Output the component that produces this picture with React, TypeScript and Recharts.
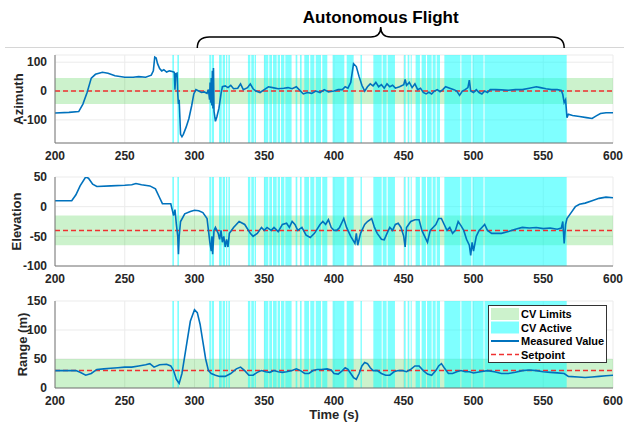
import {
  CartesianGrid,
  ComposedChart,
  Label,
  Legend,
  Line,
  ReferenceArea,
  ReferenceLine,
  XAxis,
  YAxis,
} from "recharts";

const timeTicks = [200, 250, 300, 350, 400, 450, 500, 550, 600];
const azimuthTicks = [-100, 0, 100];
const elevationTicks = [-100, -50, 0, 50];
const rangeTicks = [0, 50, 100, 150];

// CV active windows, seconds
const cvActive: [number, number][] = [
  [284.1, 285.3], [287.7, 288.9],
  [310.6, 311.8], [312.3, 314.0],
  [317.6, 319.5], [320.2, 321.9], [322.6, 323.5], [324.3, 325.4],
  [338.3, 340.0], [340.7, 342.6], [343.1, 344.1],
  [349.8, 352.9], [353.6, 355.6], [356.3, 358.9], [359.6, 361.3], [362.0, 364.4], [365.1, 369.6],
  [372.5, 373.7], [375.6, 376.8],
  [378.7, 382.1], [383.0, 385.9], [386.9, 390.7], [391.6, 395.2],
  [399.0, 407.4], [409.1, 414.1], [419.0, 420.0],
  [428.2, 434.2], [434.9, 437.7], [438.5, 443.7],
  [450.2, 451.4], [452.8, 454.0], [455.0, 455.7], [458.5, 461.6],
  [462.8, 465.9], [466.7, 470.0], [470.7, 472.9], [473.6, 476.0],
  [479.1, 490.6], [491.3, 498.5], [499.2, 507.2], [507.9, 566.8],
];

const azimuth: [number, number][] = [
  [200, -76], [210, -74], [217, -71], [220, -45], [223, -5], [226, 45], [229, 58], [234, 65], [238, 62],
  [243, 53], [250, 48], [256, 48], [260, 50], [265, 48], [269, 55], [270.5, 70], [271.5, 118], [272.5, 115],
  [273.5, 95], [275, 78], [276.5, 70], [278, 74], [280, 66], [282, 70], [284, 68], [285.5, 65], [286, 5],
  [286.5, 60], [287.5, 62], [288, -10], [288.5, -45], [289, -30], [290, -150], [291, -158], [292, -150],
  [294, -125], [296, -95], [298, -50], [299.5, -10], [301, 5], [303, 0], [305, -5], [307, -3], [309, -8],
  [310, 5], [310.8, -30], [311.2, 30], [311.6, -40], [312, 45], [312.4, -50], [312.8, 70], [313.2, -60],
  [313.6, 80], [314, -70], [315, -105], [316, -90], [317.5, -60], [319, -10], [320, 15], [322, 18],
  [324, 12], [326, 20], [328, 8], [331, 10], [333, 25], [335, 5], [338, 12], [340, 25], [342, 8],
  [344, 0], [347, -5], [350, 5], [353, 15], [356, 12], [360, 8], [364, 10], [367, 12], [370, 8],
  [373, 15], [375, 5], [378, -10], [381, -5], [384, -8], [387, 0], [390, -5], [393, 5], [396, -3],
  [400, 0], [403, 5], [406, 5], [408, 15], [410, 10], [412, 30], [414, 95], [416, 85], [418, 50],
  [420, 20], [422, 0], [424, 15], [426, 25], [428, 18], [430, 30], [432, 15], [434, 22], [436, 10],
  [438, 25], [440, 15], [442, 20], [444, 10], [447, 15], [450, 22], [451, 40], [452, 20], [454, 30],
  [456, 12], [458, 25], [460, 5], [462, 10], [464, -5], [466, -10], [468, -4], [470, -10], [472, 0],
  [474, 5], [476, -2], [478, 5], [480, 15], [483, 10], [486, 5], [488, 0], [490, -15], [492, 0],
  [494, 5], [496, 12], [497, 38], [498, 0], [500, -5], [502, 5], [504, -5], [506, -10], [508, 0],
  [510, -5], [512, 5], [516, 5], [520, 4], [525, 3], [530, 5], [535, 5], [540, 10], [545, 15],
  [548, 12], [552, 8], [556, 5], [560, 5], [563, 2], [564, -12], [565, -40], [566, -30], [567, -92],
  [568, -80], [571, -85], [576, -88], [581, -92], [585, -95], [588, -86], [591, -78], [595, -75], [600, -75],
];

const elevation: [number, number][] = [
  [200, 10], [212, 10], [215, 20], [218, 35], [222, 50], [224, 48], [227, 38], [230, 34], [240, 35],
  [250, 36], [255, 37], [258, 39], [262, 37], [268, 35], [272, 30], [275, 15], [277, 5], [280, 5],
  [283, 5], [284, -5], [285, -15], [286, -5], [287, -30], [288, -50], [288.5, -80], [289, -50],
  [290, -25], [293, -12], [297, -8], [300, -6], [303, -7], [306, -10], [309, -20], [310, -40],
  [311, -60], [312, -75], [312.5, -50], [313, -80], [314, -40], [315, -35], [317, -45], [318, -55],
  [319, -40], [320, -60], [321, -50], [322, -68], [323, -55], [324, -68], [325, -45], [328, -35],
  [332, -25], [336, -30], [340, -45], [342, -50], [345, -45], [348, -35], [350, -40], [352, -35],
  [355, -40], [357, -35], [360, -42], [363, -30], [366, -28], [368, -35], [370, -25], [372, -30],
  [374, -40], [377, -35], [380, -48], [383, -52], [386, -45], [390, -30], [392, -25], [394, -30],
  [396, -22], [398, -35], [400, -40], [402, -40], [404, -35], [406, -25], [407, -20], [409, -35],
  [412, -50], [415, -62], [416, -45], [417, -65], [419, -45], [422, -30], [424, -25], [427, -20],
  [429, -35], [431, -45], [434, -55], [436, -56], [438, -45], [440, -35], [442, -40], [444, -30],
  [446, -28], [448, -35], [450, -50], [451, -68], [452, -35], [455, -25], [458, -22], [461, -22],
  [463, -40], [465, -50], [467, -60], [469, -40], [471, -35], [473, -30], [475, -20], [477, -20],
  [479, -30], [481, -40], [483, -35], [485, -45], [487, -40], [489, -25], [491, -32], [493, -40],
  [495, -55], [497, -65], [498, -82], [499, -60], [500, -75], [502, -50], [504, -40], [506, -35],
  [508, -30], [510, -40], [513, -45], [516, -45], [520, -45], [525, -42], [530, -38], [535, -35],
  [540, -36], [545, -35], [550, -37], [555, -36], [560, -38], [563, -36], [564, -25], [565, -62],
  [566, -30], [567, -20], [570, -10], [573, 0], [576, 4], [580, 6], [585, 10], [590, 14], [595, 16],
  [600, 15],
];

const range: [number, number][] = [
  [200, 30], [210, 30], [215, 30], [218, 27], [222, 22], [226, 25], [230, 32], [235, 33], [240, 34],
  [245, 35], [250, 36], [255, 36], [260, 38], [265, 40], [268, 42], [271, 36], [275, 40], [280, 41],
  [283, 38], [285, 30], [287, 15], [289, 8], [291, 25], [294, 70], [297, 115], [300, 135], [302, 130],
  [304, 110], [306, 80], [308, 50], [310, 30], [312, 25], [315, 22], [318, 20], [322, 20], [326, 25],
  [330, 33], [333, 36], [336, 30], [339, 22], [342, 22], [345, 27], [348, 30], [351, 28], [354, 27],
  [357, 30], [360, 28], [363, 27], [366, 28], [370, 30], [373, 33], [376, 30], [379, 25], [382, 25],
  [385, 30], [388, 32], [391, 32], [395, 33], [398, 31], [400, 25], [403, 24], [406, 30], [408, 35],
  [410, 32], [412, 25], [414, 18], [416, 15], [418, 25], [420, 38], [422, 44], [424, 42], [426, 35],
  [428, 30], [431, 30], [434, 25], [437, 22], [440, 22], [443, 28], [446, 30], [449, 30], [452, 28],
  [455, 32], [458, 38], [461, 38], [464, 30], [467, 24], [470, 22], [473, 30], [475, 38], [477, 42],
  [479, 35], [482, 25], [485, 25], [488, 28], [491, 30], [494, 28], [497, 28], [500, 26], [505, 28],
  [510, 30], [515, 28], [520, 25], [525, 25], [530, 27], [535, 30], [540, 31], [545, 30], [550, 28],
  [555, 27], [560, 26], [565, 25], [568, 20], [575, 19], [580, 18], [585, 19], [590, 20], [595, 21],
  [600, 22],
];

const FONT = "'Liberation Sans', Arial, sans-serif";
const TEXT = "#262626";
const BLUE = "#0072BD";
const RED = "#f03030";
const GREEN_FILL = "#00c000";
const CYAN_FILL = "#00ffff";

const toRows = (pts: [number, number][]) => pts.map(([t, v]) => ({ t, v }));

const Brace = (props: any) => {
  const { x, width } = props;
  const x1 = x;
  const x2 = x + width;
  const mid = (x1 + x2) / 2;
  const yb = 48;
  const yl = 37;
  const yt = 27;
  const d = `M${x1},${yb} Q${x1},${yl} ${x1 + 12},${yl} L${mid - 10},${yl} Q${mid},${yl} ${mid},${yt} Q${mid},${yl} ${mid + 10},${yl} L${x2 - 12},${yl} Q${x2},${yl} ${x2},${yb}`;
  return (
    <g>
      <path d={d} fill="none" stroke="#000" strokeWidth={1.5} />
      <text x={mid} y={23} textAnchor="middle" fontFamily={FONT} fontWeight="bold" fontSize={17} fill="#000">
        Autonomous Flight
      </text>
    </g>
  );
};

const LegendBox = () => {
  const rows = [
    { name: "CV Limits", kind: "green" },
    { name: "CV Active", kind: "cyan" },
    { name: "Measured Value", kind: "line" },
    { name: "Setpoint", kind: "dash" },
  ];
  return (
    <svg width={119} height={58} style={{ display: "block" }}>
      <rect x={0.5} y={0.5} width={118} height={57} fill="#fff" stroke="#333" strokeWidth={1} />
      {rows.map((r, i) => {
        const cy = 9 + i * 13.5;
        return (
          <g key={r.name}>
            {r.kind === "green" && <rect x={3} y={cy - 6} width={28} height={12} fill={GREEN_FILL} fillOpacity={0.2} />}
            {r.kind === "cyan" && <rect x={3} y={cy - 6} width={28} height={12} fill={CYAN_FILL} fillOpacity={0.5} />}
            {r.kind === "line" && <line x1={3} x2={31} y1={cy} y2={cy} stroke={BLUE} strokeWidth={2} />}
            {r.kind === "dash" && (
              <line x1={3} x2={31} y1={cy} y2={cy} stroke={RED} strokeWidth={1.5} strokeDasharray="5 3" />
            )}
            <text x={33} y={cy + 4} fontFamily={FONT} fontWeight="bold" fontSize={11} fill="#000">
              {r.name}
            </text>
          </g>
        );
      })}
    </svg>
  );
};

interface PanelProps {
  top: number;
  height: number;
  margin: { top: number; right: number; bottom: number; left: number };
  data: [number, number][];
  domain: [number, number];
  ticks: number[];
  limits: [number, number];
  setpoint: number;
  label: string;
  labelX: number;
  brace?: boolean;
  legend?: boolean;
  timeLabel?: boolean;
}

const Panel = (p: PanelProps) => {
  const rows = toRows(p.data);
  return (
    <div style={{ position: "absolute", left: 0, top: p.top }}>
      <ComposedChart width={624} height={p.height} margin={p.margin} data={rows}>
        <CartesianGrid stroke="#ebebeb" strokeWidth={1} />
        <XAxis
          dataKey="t"
          type="number"
          domain={[200, 600]}
          ticks={timeTicks}
          allowDataOverflow
          height={20}
          tickLine={false}
          axisLine={{ stroke: "#777" }}
          tick={{ fill: TEXT, fontSize: 12, fontWeight: "bold", fontFamily: FONT }}
        >
          {p.timeLabel && (
            <Label
              content={(lp: any) => {
                const vb = lp.viewBox;
                return (
                  <text x={vb.x + vb.width / 2} y={vb.y + 31} textAnchor="middle" fontFamily={FONT} fontWeight="bold" fontSize={13} fill={TEXT}>
                    Time (s)
                  </text>
                );
              }}
            />
          )}
        </XAxis>
        <YAxis
          type="number"
          domain={p.domain}
          ticks={p.ticks}
          allowDataOverflow
          width={45}
          tickLine={false}
          axisLine={{ stroke: "#777" }}
          tick={{ fill: TEXT, fontSize: 12, fontWeight: "bold", fontFamily: FONT }}
        >
          <Label
            content={(lp: any) => {
              const vb = lp.viewBox;
              const cx = p.labelX;
              const cy = vb.y + vb.height / 2;
              return (
                <text x={cx} y={cy} transform={`rotate(-90 ${cx} ${cy})`} textAnchor="middle" dominantBaseline="central" fontFamily={FONT} fontWeight="bold" fontSize={13} fill={TEXT}>
                  {p.label}
                </text>
              );
            }}
          />
        </YAxis>
        <ReferenceArea y1={p.limits[0]} y2={p.limits[1]} fill={GREEN_FILL} fillOpacity={0.2} stroke="none" />
        {cvActive.map(([a, b], i) => (
          <ReferenceArea key={i} x1={a} x2={b} y1={p.domain[0]} y2={p.domain[1]} fill={CYAN_FILL} fillOpacity={0.5} stroke="none" />
        ))}
        <ReferenceLine y={p.setpoint} stroke={RED} strokeWidth={1.5} strokeDasharray="5 3" />
        <Line
          dataKey="v"
          type="linear"
          stroke={BLUE}
          strokeWidth={1.6}
          dot={false}
          activeDot={false}
          isAnimationActive={false}
        />
        {p.brace && (
          <ReferenceArea
            x1={302}
            x2={565}
            y1={p.domain[1] - 5}
            y2={p.domain[1]}
            ifOverflow="visible"
            shape={(sp: any) => <Brace {...sp} />}
          />
        )}
        {p.legend && (
          <Legend
            layout="vertical"
            align="center"
            verticalAlign="middle"
            content={() => <LegendBox />}
            wrapperStyle={{ position: "absolute", left: 488, top: 17, width: 119, height: 58 }}
          />
        )}
      </ComposedChart>
    </div>
  );
};

export default function App() {
  return (
    <div style={{ position: "absolute", left: 0, top: 0, width: 624, height: 428, background: "#fff", overflow: "hidden" }}>
      <div style={{ position: "absolute", left: 5, top: 47, width: 619, height: 0, borderTop: "1px solid #d6d6d6" }} />
      <Panel
        top={0}
        height={165}
        margin={{ top: 55, right: 11, bottom: 2, left: 10 }}
        data={azimuth}
        domain={[-180, 125]}
        ticks={azimuthTicks}
        limits={[-45, 45]}
        setpoint={0}
        label="Azimuth"
        labelX={18}
        brace
      />
      <Panel
        top={165}
        height={123}
        margin={{ top: 12, right: 11, bottom: 2, left: 10 }}
        data={elevation}
        domain={[-100, 50]}
        ticks={elevationTicks}
        limits={[-65, -15]}
        setpoint={-40}
        label="Elevation"
        labelX={16}
      />
      <Panel
        top={288}
        height={140}
        margin={{ top: 13, right: 11, bottom: 20, left: 10 }}
        data={range}
        domain={[0, 150]}
        ticks={rangeTicks}
        limits={[0, 50]}
        setpoint={30}
        label="Range (m)"
        labelX={22}
        legend
        timeLabel
      />
    </div>
  );
}
